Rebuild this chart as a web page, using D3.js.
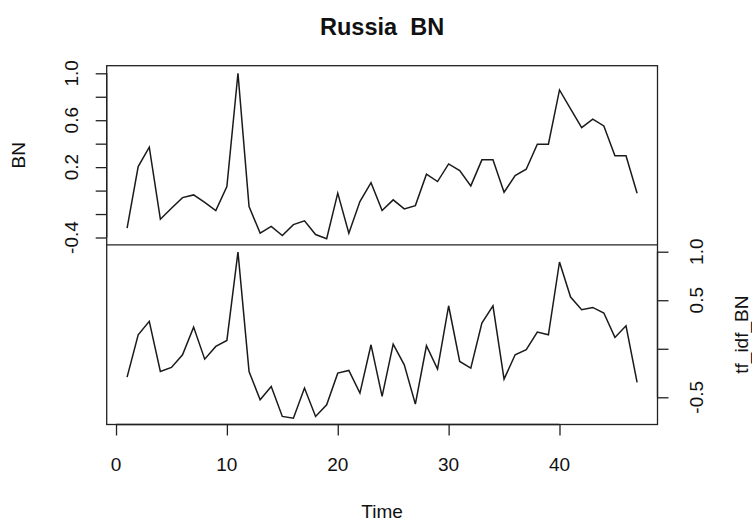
<!DOCTYPE html>
<html>
<head>
<meta charset="utf-8">
<script src="https://cdn.jsdelivr.net/npm/d3@7"></script>
<style>
  html, body { margin: 0; padding: 0; background: #fff; }
  svg text { font-family: "Liberation Sans", Arial, Helvetica, sans-serif; fill: #111; }
</style>
</head>
<body>
<svg id="chart" width="752" height="522"></svg>
<script>
// ---- data ----
const time = d3.range(1, 48);
const bnValues = [
  -0.32, 0.205, 0.37, -0.244, -0.15, -0.06, -0.037, -0.10, -0.17, 0.034,
  1.0, -0.136, -0.363, -0.306, -0.383, -0.29, -0.258, -0.375, -0.41, -0.022,
  -0.363, -0.094, 0.068, -0.17, -0.079, -0.156, -0.128, 0.14, 0.077, 0.227,
  0.17, 0.04, 0.262, 0.262, -0.014, 0.128, 0.182, 0.395, 0.395, 0.858,
  0.696, 0.537, 0.61, 0.551, 0.296, 0.296, -0.022
];
const tfidfValues = [
  -0.292, 0.144, 0.282, -0.234, -0.192, -0.062, 0.223, -0.107, 0.024, 0.086,
  0.997, -0.234, -0.526, -0.388, -0.697, -0.715, -0.405, -0.697, -0.577, -0.251,
  -0.223, -0.457, 0.041, -0.491, 0.048, -0.165, -0.57, 0.031, -0.21, 0.443,
  -0.131, -0.199, 0.265, 0.443, -0.313, -0.062, -0.01, 0.172, 0.144, 0.894,
  0.533, 0.402, 0.426, 0.368, 0.117, 0.237, -0.347
];
const xTicks = [0, 10, 20, 30, 40];
const bnTicks = [-0.4, -0.2, 0.0, 0.2, 0.4, 0.6, 0.8, 1.0];
const bnTickLabels = ["-0.4", "", "", "0.2", "", "0.6", "", "1.0"];
const tfTicks = [-0.5, 0.0, 0.5, 1.0];
const tfTickLabels = ["-0.5", "", "0.5", "1.0"];
const titleText = "Russia  BN";
const xLabel = "Time";
const topLabel = "BN";
const bottomLabel = "tf_idf_BN";

// ---- layout ----
const svg = d3.select("#chart");
const pLeft = 106.7, pRight = 657.5, pTop = 65.7, pMid = 244.8, pBottom = 424.5;
const fs = 19;
const tickLen = 11;

const x = d3.scaleLinear().domain([-0.84, 48.84]).range([pLeft, pRight]);
const yTop = d3.scaleLinear().domain([-0.4, 1.0]).range([237.5, 73.3]);
const yBot = d3.scaleLinear().domain([-0.5, 1.0]).range([397.3, 251.7]);

const stroke = "#222";

// panels
const lineTop = d3.line().x((d, i) => x(time[i])).y(d => yTop(d));
const lineBot = d3.line().x((d, i) => x(time[i])).y(d => yBot(d));

svg.append("path").datum(bnValues).attr("d", lineTop)
  .attr("fill", "none").attr("stroke", "#1a1a1a").attr("stroke-width", 1.5);
svg.append("path").datum(tfidfValues).attr("d", lineBot)
  .attr("fill", "none").attr("stroke", "#1a1a1a").attr("stroke-width", 1.5);

// boxes
svg.append("rect").attr("x", pLeft).attr("y", pTop)
  .attr("width", pRight - pLeft).attr("height", pBottom - pTop)
  .attr("fill", "none").attr("stroke", stroke).attr("stroke-width", 1.3);
svg.append("line").attr("x1", pLeft).attr("x2", pRight).attr("y1", pMid).attr("y2", pMid)
  .attr("stroke", stroke).attr("stroke-width", 1.3);

// left axis (top panel)
const gL = svg.append("g").attr("transform", `translate(${pLeft},0)`);
gL.call(d3.axisLeft(yTop).tickValues(bnTicks).tickSize(tickLen).tickFormat(""));
gL.select(".domain").attr("d", `M0,${yTop(bnTicks[0])}V${yTop(bnTicks[bnTicks.length-1])}`)
  .attr("stroke", stroke).attr("stroke-width", 1.3);
gL.selectAll(".tick line").attr("stroke", stroke).attr("stroke-width", 1.3);
bnTicks.forEach((t, i) => {
  if (!bnTickLabels[i]) return;
  svg.append("text")
    .attr("transform", `translate(78,${yTop(t)}) rotate(-90)`)
    .attr("text-anchor", "middle").attr("font-size", fs)
    .text(bnTickLabels[i]);
});

// right axis (bottom panel)
const gR = svg.append("g").attr("transform", `translate(${pRight},0)`);
gR.call(d3.axisRight(yBot).tickValues(tfTicks).tickSize(tickLen).tickFormat(""));
gR.select(".domain").attr("d", `M0,${yBot(tfTicks[0])}V${yBot(tfTicks[tfTicks.length-1])}`)
  .attr("stroke", stroke).attr("stroke-width", 1.3);
gR.selectAll(".tick line").attr("stroke", stroke).attr("stroke-width", 1.3);
tfTicks.forEach((t, i) => {
  if (!tfTickLabels[i]) return;
  svg.append("text")
    .attr("transform", `translate(703,${yBot(t)}) rotate(-90)`)
    .attr("text-anchor", "middle").attr("font-size", fs)
    .text(tfTickLabels[i]);
});

// bottom axis
const gB = svg.append("g").attr("transform", `translate(0,${pBottom})`);
gB.call(d3.axisBottom(x).tickValues(xTicks).tickSize(tickLen).tickFormat(""));
gB.select(".domain").attr("d", `M${x(xTicks[0])},0H${x(xTicks[xTicks.length-1])}`)
  .attr("stroke", stroke).attr("stroke-width", 1.3);
gB.selectAll(".tick line").attr("stroke", stroke).attr("stroke-width", 1.3);
xTicks.forEach(t => {
  svg.append("text").attr("x", x(t)).attr("y", 471)
    .attr("text-anchor", "middle").attr("font-size", fs).text(String(t));
});

// titles / labels
svg.append("text").attr("x", (pLeft + pRight) / 2).attr("y", 35)
  .attr("text-anchor", "middle").attr("font-size", 23.5).attr("font-weight", "bold")
  .style("white-space", "pre")
  .text(titleText);
svg.append("text").attr("x", (pLeft + pRight) / 2).attr("y", 518)
  .attr("text-anchor", "middle").attr("font-size", fs).text(xLabel);
svg.append("text")
  .attr("transform", `translate(25,${(pTop + pMid) / 2}) rotate(-90)`)
  .attr("text-anchor", "middle").attr("font-size", fs).text(topLabel);
svg.append("text")
  .attr("transform", `translate(748,${(pMid + pBottom) / 2}) rotate(-90)`)
  .attr("text-anchor", "middle").attr("font-size", fs).text(bottomLabel);
</script>
</body>
</html>
